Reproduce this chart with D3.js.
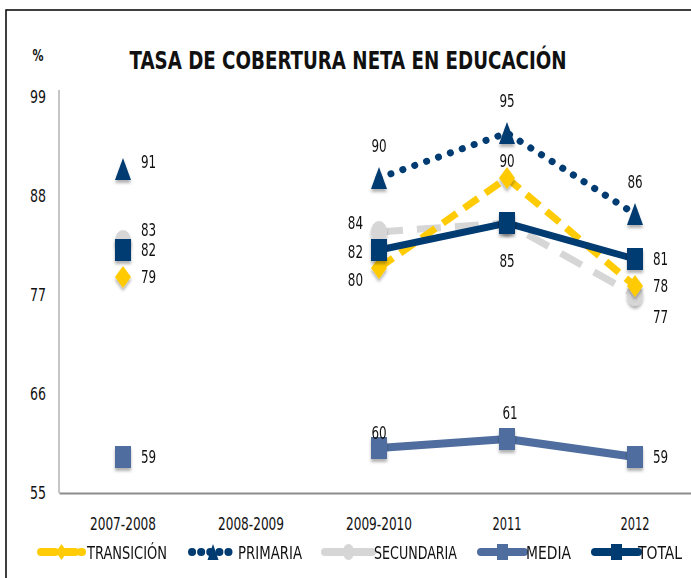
<!DOCTYPE html>
<html>
<head>
<meta charset="utf-8">
<script src="https://cdn.jsdelivr.net/npm/d3@7"></script>
<style>
  body { margin: 0; background: #fff; overflow: hidden; }
  svg text { font-family: "Liberation Sans Narrow", "DejaVu Sans Condensed", sans-serif; fill: #111; }
</style>
</head>
<body>
<div id="chart"></div>
<script>
// data
var categories = ["2007-2008", "2008-2009", "2009-2010", "2011", "2012"]
var transicion = [79, null, 80, 90, 78]
var primaria   = [91, null, 90, 95, 86]
var secundaria = [83, null, 84, 85, 77]
var media      = [59, null, 60, 61, 59]
var total      = [82, null, 82, 85, 81]
var yTicks = [55, 66, 77, 88, 99]

// where each value label sits (null = no label)
var labelPos = {
    transicion: ["r", null, "lb", "tn", "r"],
    primaria:   ["rt", null, "t", "t", "t"],
    secundaria: ["rt2", null, "lt", "b", "rb"],
    media:      ["r", null, "tm", "t2", "r"],
    total:      ["r", null, "l", null, "r"]
}

var offsets = {
    r:   { dx: 18,  dy: 0,   a: "start" },
    rt:  { dx: 18,  dy: -7,  a: "start" },
    rt2: { dx: 18,  dy: -11, a: "start" },
    rb:  { dx: 18,  dy: 22,  a: "start" },
    l:   { dx: -16, dy: 2,   a: "end" },
    lt:  { dx: -16, dy: -9,  a: "end" },
    lb:  { dx: -16, dy: 12,  a: "end" },
    t:   { dx: 0,   dy: -32, a: "middle" },
    tn:  { dx: 0,   dy: -17, a: "middle" },
    tm:  { dx: 0,   dy: -15, a: "middle" },
    t2:  { dx: 3,   dy: -26, a: "middle" },
    b:   { dx: 0,   dy: 38,  a: "middle" }
}

var series = [
    { key: "secundaria", name: "SECUNDARIA", values: secundaria, color: "#d6d6d6", width: 7, dash: "24,14", cap: "butt", marker: "ellipse" },
    { key: "media",      name: "MEDIA",      values: media,      color: "#4f6d9f", width: 8, dash: null,    cap: "butt", marker: "square" },
    { key: "transicion", name: "TRANSICIÓN", values: transicion, color: "#ffcb05", width: 7, dash: "17,9",  cap: "butt", marker: "diamond" },
    { key: "primaria",   name: "PRIMARIA",   values: primaria,   color: "#003b72", width: 7, dash: "0.1,12.5", cap: "round", marker: "triangle" },
    { key: "total",      name: "TOTAL",      values: total,      color: "#003b72", width: 7, dash: null,    cap: "butt", marker: "square" }
]

var legendOrder = ["transicion", "primaria", "secundaria", "media", "total"]
var legendX = { transicion: [41, 82, 87, 80], primaria: [192, 234, 238, 64], secundaria: [325, 372, 374, 83], media: [481, 524, 526, 45], total: [595, 638, 638, 44] }

var W = 691, H = 578
var FONT = "'Liberation Sans Narrow', 'DejaVu Sans Condensed', sans-serif"

var svg = d3.select("#chart").append("svg")
    .attr("width", W)
    .attr("height", H)

var defs = svg.append("defs")
defs.append("filter")
    .attr("id", "shadow")
    .attr("x", "-50%").attr("y", "-50%").attr("width", "200%").attr("height", "200%")
    .append("feDropShadow")
        .attr("dx", 0).attr("dy", 3)
        .attr("stdDeviation", 1.5)
        .attr("flood-color", "#000")
        .attr("flood-opacity", 0.3)

// outer frame
svg.append("rect")
    .attr("x", 6).attr("y", 10)
    .attr("width", 720).attr("height", 620)
    .attr("fill", "none")
    .attr("stroke", "#000")
    .attr("stroke-width", 1.5)

var x = d3.scaleBand()
    .domain(categories)
    .range([59, 699])
    .padding(0)

var y = d3.scaleLinear()
    .domain([55, 99])
    .range([493, 97])

function cx(i){ return x(categories[i]) + x.bandwidth() / 2 }

// title and unit
svg.append("text")
    .attr("x", 348)
    .attr("y", 69)
    .attr("text-anchor", "middle")
    .attr("font-size", "25px")
    .attr("font-weight", "bold")
    .attr("textLength", 437)
    .attr("lengthAdjust", "spacingAndGlyphs")
    .text("TASA DE COBERTURA NETA EN EDUCACIÓN")

svg.append("text")
    .attr("x", 38)
    .attr("y", 61)
    .attr("text-anchor", "middle")
    .attr("font-size", "16px")
    .attr("font-weight", "bold")
    .attr("textLength", 11)
    .attr("lengthAdjust", "spacingAndGlyphs")
    .text("%")

// axes
var yAxis = svg.append("g")
    .attr("transform", "translate(59,0)")
    .call(d3.axisLeft(y).tickValues(yTicks).tickSize(0).tickPadding(13))
yAxis.select(".domain").remove()
yAxis.selectAll("text")
    .attr("font-size", "18px")
    .attr("fill", "#111")
    .attr("textLength", 16)
    .attr("lengthAdjust", "spacingAndGlyphs")
    .style("font-family", FONT)

svg.append("line")
    .attr("x1", 59).attr("x2", 59)
    .attr("y1", 90).attr("y2", y(55))
    .attr("stroke", "#8c8c8c")
    .attr("stroke-width", 1)

var xAxis = svg.append("g")
    .attr("transform", "translate(0," + y(55) + ")")
    .call(d3.axisBottom(x).tickSize(0).tickPadding(24))
xAxis.select(".domain")
    .attr("stroke", "#8c8c8c")
    .attr("stroke-width", 2)
xAxis.selectAll("text")
    .attr("font-size", "18px")
    .attr("fill", "#111")
    .attr("textLength", function(d){ return d.length > 4 ? 66 : 29 })
    .attr("lengthAdjust", "spacingAndGlyphs")
    .style("font-family", FONT)

function markerPath(type, w, h){
    var hw = w / 2, hh = h / 2
    if (type == "triangle") return "M0," + (-hh) + "L" + hw + "," + hh + "L" + (-hw) + "," + hh + "Z"
    if (type == "diamond") return "M0," + (-hh) + "L" + hw + ",0L0," + hh + "L" + (-hw) + ",0Z"
    if (type == "square") return "M" + (-hw) + "," + (-hh) + "H" + hw + "V" + hh + "H" + (-hw) + "Z"
    // ellipse
    return "M" + (-hw) + ",0A" + hw + "," + hh + " 0 1,0 " + hw + ",0A" + hw + "," + hh + " 0 1,0 " + (-hw) + ",0Z"
}

var line = d3.line()
    .defined(function(d){ return d != null })
    .x(function(d, i){ return cx(i) })
    .y(function(d){ return y(d) })

// lines first, then markers
series.forEach(function(s){
    svg.append("path")
        .datum(s.values)
        .attr("d", line)
        .attr("fill", "none")
        .attr("stroke", s.color)
        .attr("stroke-width", s.width)
        .attr("stroke-dasharray", s.dash)
        .attr("stroke-linecap", s.cap)
})

series.forEach(function(s){
    svg.append("g")
        .attr("filter", "url(#shadow)")
        .selectAll("path")
        .data(s.values.map(function(v, i){ return { v: v, i: i } }).filter(function(d){ return d.v != null }))
        .enter()
        .append("path")
            .attr("transform", function(d){ return "translate(" + cx(d.i) + "," + y(d.v) + ")" })
            .attr("d", markerPath(s.marker, 16, 22))
            .attr("fill", s.color)
})

// value labels
series.forEach(function(s){
    s.values.forEach(function(v, i){
        var p = labelPos[s.key][i]
        if (v == null || !p) return
        var o = offsets[p]
        svg.append("text")
            .attr("x", cx(i) + o.dx)
            .attr("y", y(v) + o.dy + 6)
            .attr("text-anchor", o.a)
            .attr("font-size", "18px")
            .attr("textLength", String(v).length * 7.6)
            .attr("lengthAdjust", "spacingAndGlyphs")
            .text(v)
    })
})

// legend
var byKey = {}
series.forEach(function(s){ byKey[s.key] = s })
var legendY = 552

legendOrder.forEach(function(k){
    var s = byKey[k], lx = legendX[k]
    var g = svg.append("g")
    g.append("line")
        .attr("x1", lx[0]).attr("x2", lx[1])
        .attr("y1", legendY).attr("y2", legendY)
        .attr("stroke", s.color)
        .attr("stroke-width", 8)
        .attr("stroke-linecap", "round")
        .attr("stroke-dasharray", k == "primaria" ? "0.1,9" : (k == "transicion" ? "14,6" : null))
    g.append("path")
        .attr("transform", "translate(" + ((lx[0] + lx[1]) / 2) + "," + legendY + ")")
        .attr("d", markerPath(s.marker, 11, 16))
        .attr("fill", s.color)
    g.append("text")
        .attr("x", lx[2])
        .attr("y", legendY + 7)
        .attr("font-size", "18px")
        .attr("textLength", lx[3])
        .attr("lengthAdjust", "spacingAndGlyphs")
        .text(s.name)
})
</script>
</body>
</html>
